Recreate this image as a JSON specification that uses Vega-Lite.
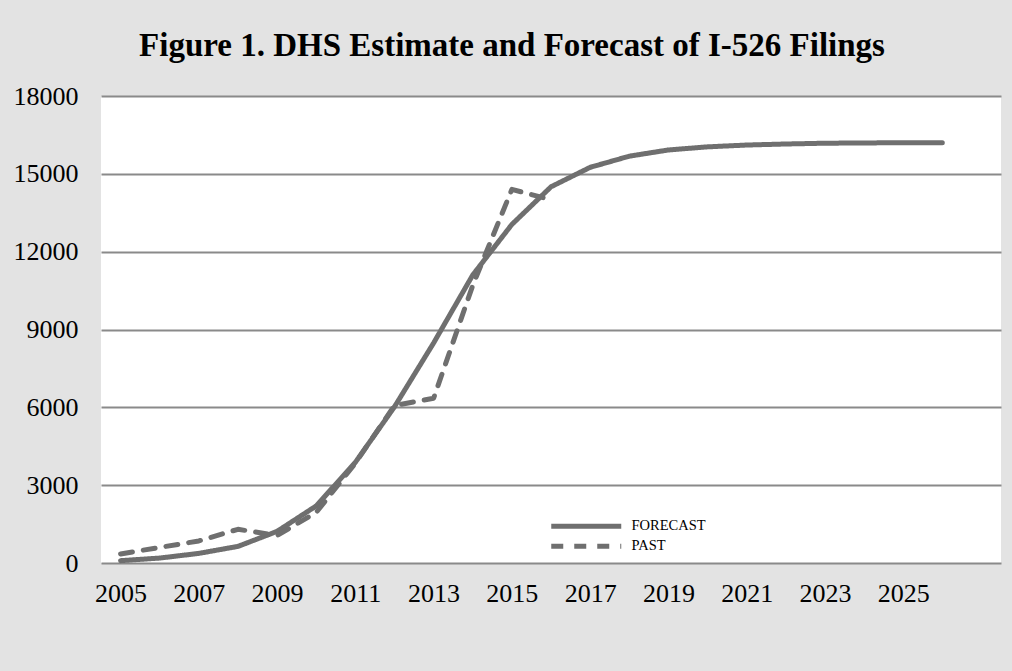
{
  "$schema": "https://vega.github.io/schema/vega-lite/v6.json",
  "width": 900,
  "height": 467,
  "autosize": {"type": "none"},
  "padding": {"left": 101, "top": 96, "right": 11, "bottom": 108},
  "background": "#e3e3e3",
  "title": {
    "text": "Figure 1.  DHS Estimate and Forecast of I-526 Filings",
    "font": "Liberation Serif",
    "fontSize": 33,
    "fontWeight": "bold",
    "color": "#000000",
    "anchor": "middle",
    "dx": -39,
    "offset": 20
  },
  "config": {
    "view": {"fill": "#ffffff", "stroke": null},
    "font": "Liberation Serif"
  },
  "data": {
    "values": [
      {"year": 2005, "series": "FORECAST", "value": 90},
      {"year": 2006, "series": "FORECAST", "value": 190},
      {"year": 2007, "series": "FORECAST", "value": 370},
      {"year": 2008, "series": "FORECAST", "value": 640},
      {"year": 2009, "series": "FORECAST", "value": 1220},
      {"year": 2010, "series": "FORECAST", "value": 2200},
      {"year": 2011, "series": "FORECAST", "value": 3880},
      {"year": 2012, "series": "FORECAST", "value": 6020},
      {"year": 2013, "series": "FORECAST", "value": 8480},
      {"year": 2014, "series": "FORECAST", "value": 11100},
      {"year": 2015, "series": "FORECAST", "value": 13050},
      {"year": 2016, "series": "FORECAST", "value": 14500},
      {"year": 2017, "series": "FORECAST", "value": 15250},
      {"year": 2018, "series": "FORECAST", "value": 15680},
      {"year": 2019, "series": "FORECAST", "value": 15920},
      {"year": 2020, "series": "FORECAST", "value": 16040},
      {"year": 2021, "series": "FORECAST", "value": 16110},
      {"year": 2022, "series": "FORECAST", "value": 16150},
      {"year": 2023, "series": "FORECAST", "value": 16180},
      {"year": 2024, "series": "FORECAST", "value": 16190},
      {"year": 2025, "series": "FORECAST", "value": 16200},
      {"year": 2026, "series": "FORECAST", "value": 16200},
      {"year": 2005, "series": "PAST", "value": 350},
      {"year": 2006, "series": "PAST", "value": 600},
      {"year": 2007, "series": "PAST", "value": 850},
      {"year": 2008, "series": "PAST", "value": 1300},
      {"year": 2009, "series": "PAST", "value": 1060},
      {"year": 2010, "series": "PAST", "value": 1950},
      {"year": 2011, "series": "PAST", "value": 3850},
      {"year": 2012, "series": "PAST", "value": 6070},
      {"year": 2013, "series": "PAST", "value": 6350},
      {"year": 2014, "series": "PAST", "value": 10700},
      {"year": 2015, "series": "PAST", "value": 14400},
      {"year": 2016, "series": "PAST", "value": 14000}
    ]
  },
  "mark": {"type": "line", "strokeWidth": 5, "strokeCap": "round", "strokeJoin": "round", "color": "#6f6f6f"},
  "encoding": {
    "x": {
      "field": "year",
      "type": "quantitative",
      "scale": {"domain": [2004.5, 2027.5], "nice": false, "zero": false},
      "axis": {
        "title": null,
        "values": [2005, 2007, 2009, 2011, 2013, 2015, 2017, 2019, 2021, 2023, 2025],
        "format": "d",
        "grid": false,
        "ticks": false,
        "domain": false,
        "labelFont": "Liberation Serif",
        "labelFontSize": 26,
        "labelColor": "#000000",
        "labelPadding": 17,
        "labelFlush": false
      }
    },
    "y": {
      "field": "value",
      "type": "quantitative",
      "scale": {"domain": [0, 18000], "nice": false},
      "axis": {
        "title": null,
        "values": [0, 3000, 6000, 9000, 12000, 15000, 18000],
        "format": "d",
        "grid": true,
        "gridColor": "#8a8a8a",
        "gridWidth": 2,
        "gridOpacity": 1,
        "ticks": false,
        "domain": false,
        "labelFont": "Liberation Serif",
        "labelFontSize": 26,
        "labelColor": "#000000",
        "labelPadding": 23,
        "labelBaseline": "middle"
      }
    },
    "strokeDash": {
      "field": "series",
      "type": "nominal",
      "scale": {"domain": ["FORECAST", "PAST"], "range": [[1, 0], [12, 11]]},
      "legend": {
        "title": null,
        "orient": "none",
        "legendX": 478,
        "legendY": 423,
        "symbolType": "M-10,0H10",
        "symbolSize": 49,
        "symbolStrokeWidth": 5,
        "symbolStrokeColor": "#6f6f6f",
        "labelFont": "Liberation Serif",
        "labelFontSize": 14.5,
        "labelColor": "#000000",
        "rowPadding": -1,
        "labelOffset": 38
      }
    }
  }
}
